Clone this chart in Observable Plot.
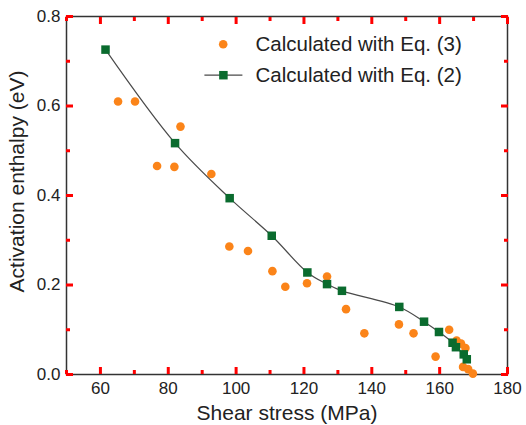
<!DOCTYPE html>
<html>
<head>
<meta charset="utf-8">
<script src="https://cdn.jsdelivr.net/npm/d3@7"></script>
<script src="https://cdn.jsdelivr.net/npm/@observablehq/plot@0.6"></script>
<style>
  html, body { margin: 0; padding: 0; background: #fff; }
</style>
</head>
<body>
<div id="chart"></div>
<script>
// Calculated with Eq. (3) — orange circles
const eq3Stress = [65.2, 70.2, 83.6, 76.7, 81.8, 92.7, 98.0, 103.5, 110.7, 114.5, 120.9, 126.8, 132.4, 137.8, 148.0, 152.3, 158.8, 162.8, 165.0, 166.3, 167.6, 166.9, 168.4, 169.8];
const eq3Enthalpy = [0.610, 0.610, 0.554, 0.466, 0.464, 0.448, 0.286, 0.276, 0.231, 0.196, 0.204, 0.219, 0.146, 0.092, 0.112, 0.092, 0.040, 0.100, 0.076, 0.069, 0.059, 0.017, 0.012, 0.002];

// Calculated with Eq. (2) — green squares with line
const eq2Stress = [61.5, 82.0, 98.1, 110.5, 121.0, 126.8, 131.2, 148.1, 155.4, 159.8, 163.8, 164.8, 167.1, 168.0];
const eq2Enthalpy = [0.726, 0.517, 0.394, 0.310, 0.228, 0.202, 0.187, 0.151, 0.118, 0.095, 0.071, 0.061, 0.045, 0.034];

const xMajorTicks = [60, 80, 100, 120, 140, 160, 180];
const xMinorTicks = [50, 70, 90, 110, 130, 150, 170];
const yMajorTicks = [0, 0.2, 0.4, 0.6, 0.8];
const yMinorTicks = [0.1, 0.3, 0.5, 0.7];

const seriesNames = ["Calculated with Eq. (3)", "Calculated with Eq. (2)"];
const xTitle = "Shear stress (MPa)";
const yTitle = "Activation enthalpy (eV)";

const eq3 = eq3Stress.map((x, i) => ({x, y: eq3Enthalpy[i]}));
const eq2 = eq2Stress.map((x, i) => ({x, y: eq2Enthalpy[i]}));

const W = 526, H = 425;
const mL = 66, mR = 19, mT = 16, mB = 51;

const orange = "#FB8419";
const green = "#0A6B2E";
const axisColor = "#333";
const MAJ = 7, MIN = 4;

const legendLine = {
  draw(context) {
    context.moveTo(-19, 0);
    context.lineTo(19, 0);
  }
};

const chart = Plot.plot({
  width: W,
  height: H,
  marginLeft: mL,
  marginRight: mR,
  marginTop: mT,
  marginBottom: mB,
  style: {fontFamily: "'Liberation Sans', Arial, Helvetica, sans-serif", background: "#fff", color: "#222"},
  x: {domain: [50, 180], label: null},
  y: {domain: [0, 0.8], label: null},
  marks: [
    Plot.frame({stroke: axisColor, strokeWidth: 1.5}),
    // inward ticks on all four sides (axis ticks with negative length)
    Plot.axisX(xMajorTicks, {anchor: "bottom", tickSize: -MAJ, tickFormat: () => "", stroke: "red", strokeWidth: 3, label: null}),
    Plot.axisX(xMinorTicks, {anchor: "bottom", tickSize: -MIN, tickFormat: () => "", stroke: "red", strokeWidth: 3, label: null}),
    Plot.axisX(xMajorTicks, {anchor: "top", tickSize: -MAJ, tickFormat: () => "", stroke: "red", strokeWidth: 3, label: null}),
    Plot.axisX(xMinorTicks, {anchor: "top", tickSize: -MIN, tickFormat: () => "", stroke: "red", strokeWidth: 3, label: null}),
    Plot.axisY(yMajorTicks, {anchor: "left", tickSize: -MAJ, tickFormat: () => "", stroke: "red", strokeWidth: 3, label: null}),
    Plot.axisY(yMinorTicks, {anchor: "left", tickSize: -MIN, tickFormat: () => "", stroke: "red", strokeWidth: 3, label: null}),
    Plot.axisY(yMajorTicks, {anchor: "right", tickSize: -MAJ, tickFormat: () => "", stroke: "red", strokeWidth: 3, label: null}),
    Plot.axisY(yMinorTicks, {anchor: "right", tickSize: -MIN, tickFormat: () => "", stroke: "red", strokeWidth: 3, label: null}),
    // labels
    Plot.axisX(xMajorTicks, {anchor: "bottom", tickSize: 0, tickPadding: 7, fontSize: 17, fill: "#222", label: null}),
    Plot.axisY(yMajorTicks, {anchor: "left", tickSize: 0, tickPadding: 6, fontSize: 17, fill: "#222", tickFormat: d3.format(".1f"), label: null}),
    // titles
    Plot.text([xTitle], {frameAnchor: "bottom", lineAnchor: "middle", textAnchor: "middle", dy: 39, fontSize: 21, fill: "#222"}),
    Plot.text([yTitle], {frameAnchor: "left", lineAnchor: "middle", textAnchor: "middle", rotate: -90, dx: -49, dy: -14, fontSize: 21, fill: "#222"}),
    // data
    Plot.dot(eq3, {x: "x", y: "y", r: 4.3, fill: orange}),
    Plot.line(eq2, {x: "x", y: "y", curve: "catmull-rom", stroke: "#4a4a4a", strokeWidth: 1.2}),
    Plot.dot(eq2, {x: "x", y: "y", symbol: "square", r: 4.8, fill: green}),
    // legend
    Plot.dot([seriesNames[0]], {frameAnchor: "top-left", dx: 156.7, dy: 27.7, r: 4.3, fill: orange}),
    Plot.text([seriesNames[0]], {frameAnchor: "top-left", dx: 189, dy: 27.7, textAnchor: "start", lineAnchor: "middle", fontSize: 20.5, fill: "#222"}),
    Plot.dot([seriesNames[1]], {frameAnchor: "top-left", dx: 156.9, dy: 58.7, symbol: legendLine, stroke: "#4a4a4a", strokeWidth: 1.2, fill: "none"}),
    Plot.dot([seriesNames[1]], {frameAnchor: "top-left", dx: 156.9, dy: 58.7, symbol: "square", r: 4.8, fill: green}),
    Plot.text([seriesNames[1]], {frameAnchor: "top-left", dx: 189, dy: 58.7, textAnchor: "start", lineAnchor: "middle", fontSize: 20.5, fill: "#222"})
  ]
});

document.getElementById("chart").appendChild(chart);
</script>
</body>
</html>
